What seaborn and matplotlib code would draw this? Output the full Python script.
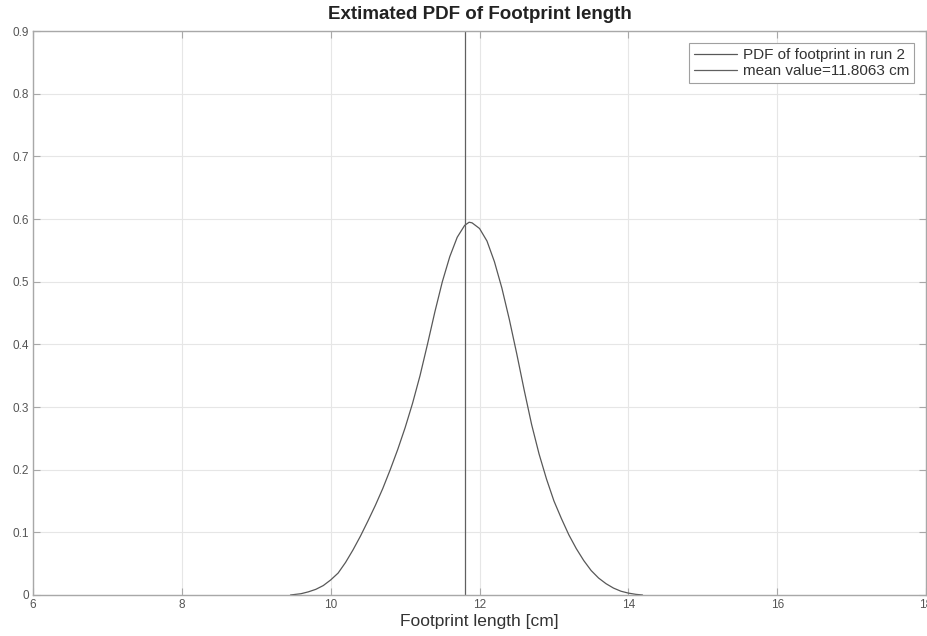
import numpy as np
import pandas as pd
import seaborn as sns
import matplotlib.pyplot as plt

# PDF curve (footprint length in cm, density)
length_cm = [9.46, 9.6, 9.7, 9.8, 9.9, 10.0, 10.1, 10.2, 10.3, 10.4, 10.5,
             10.6, 10.7, 10.8, 10.9, 11.0, 11.1, 11.2, 11.3, 11.4, 11.5,
             11.6, 11.7, 11.8, 11.86, 11.9, 12.0, 12.1, 12.2, 12.3, 12.4,
             12.5, 12.6, 12.7, 12.8, 12.9, 13.0, 13.1, 13.2, 13.3, 13.4,
             13.5, 13.6, 13.7, 13.8, 13.9, 14.0, 14.1, 14.19]
density = [0.0, 0.002, 0.005, 0.009, 0.015, 0.024, 0.035, 0.052, 0.072,
           0.094, 0.118, 0.143, 0.17, 0.2, 0.232, 0.267, 0.306, 0.35, 0.4,
           0.452, 0.5, 0.54, 0.571, 0.59, 0.595, 0.594, 0.585, 0.565, 0.532,
           0.49, 0.44, 0.385, 0.327, 0.272, 0.225, 0.185, 0.15, 0.122,
           0.096, 0.074, 0.055, 0.039, 0.027, 0.018, 0.011, 0.006, 0.003,
           0.001, 0.0]
mean_value = 11.8063

x_ticks = [6, 8, 10, 12, 14, 16, 18]
y_ticks = [0, 0.1, 0.2, 0.3, 0.4, 0.5, 0.6, 0.7, 0.8, 0.9]

sns.set_theme(style="whitegrid")
plt.rcParams['font.family'] = ['Liberation Sans', 'DejaVu Sans']

df = pd.DataFrame({'length': length_cm, 'pdf': density})

fig = plt.figure(figsize=(9.27, 6.36), dpi=100)
ax = fig.add_axes([0.0356, 0.0645, 0.9634, 0.8865])

sns.lineplot(data=df, x='length', y='pdf', ax=ax, color='#585858',
             linewidth=0.9, label='PDF of footprint in run 2')
ax.axvline(mean_value, color='#606060', linewidth=0.9,
           label=f'mean value={mean_value} cm')

ax.set_xlim(6, 18)
ax.set_ylim(0, 0.9)
ax.set_xticks(x_ticks)
ax.set_yticks(y_ticks)
ax.set_xticklabels([str(t) for t in x_ticks])
ax.set_yticklabels(['0'] + [f'{t:.1f}' for t in y_ticks[1:]])

ax.set_facecolor('white')
ax.grid(True, color='#e6e6e6', linewidth=0.8)
for s in ax.spines.values():
    s.set_visible(True)
    s.set_color('#a8a8a8')
    s.set_linewidth(1.0)
ax.tick_params(axis='both', direction='in', length=5, width=0.8,
               color='#a8a8a8', labelsize=8.5, labelcolor='#555555', pad=3,
               top=True, right=True, bottom=True, left=True)

ax.set_xlabel('Footprint length [cm]', fontsize=12.5, color='#333333', labelpad=2)
ax.set_ylabel('')
ax.set_title('Extimated PDF of Footprint length', fontsize=13.5,
             fontweight='bold', color='#222222', pad=9)

leg = ax.legend(loc='upper right', fontsize=11, frameon=True, fancybox=False,
                edgecolor='#a0a0a0', framealpha=1, handlelength=2.8,
                borderpad=0.3, labelspacing=0.15, handletextpad=0.4,
                borderaxespad=0.8)
leg.get_frame().set_linewidth(0.8)
for t in leg.get_texts():
    t.set_color('#333333')

fig.savefig('out.png', dpi=100)
plt.close(fig)
